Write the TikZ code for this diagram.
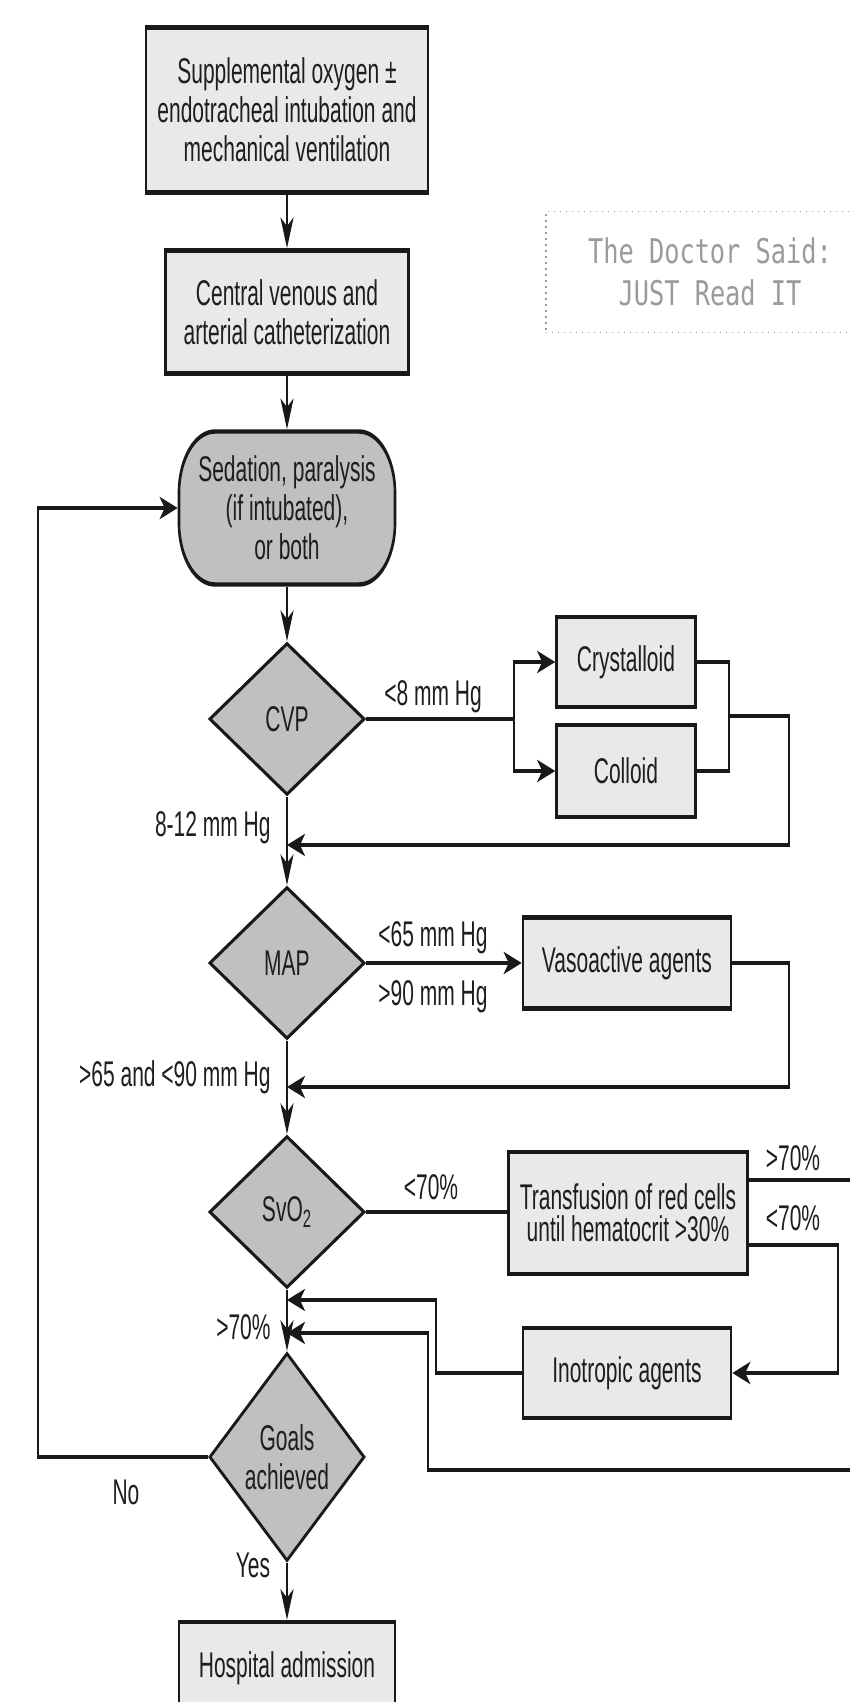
\documentclass[tikz,border=0pt]{standalone}
\usepackage{fontspec}
\setmainfont{Liberation Sans}
\newfontfamily\wmfont{DejaVu Sans Mono}[FakeStretch=0.745]
\usetikzlibrary{shapes.geometric,arrows.meta}
\definecolor{lightfill}{RGB}{233,233,233}
\definecolor{darkfill}{RGB}{192,192,192}
\definecolor{linec}{RGB}{25,25,25}
\definecolor{textc}{RGB}{30,30,30}
\definecolor{wmc}{RGB}{155,155,155}
\newcommand\fsz{\fontsize{10.5}{11.5}\selectfont}
\tikzset{
  lbox/.style={draw=linec, line width=1.3pt, fill=lightfill, inner sep=0pt, align=center, font=\fsz, text=textc},
  sedbox/.style={lbox, fill=darkfill, rounded corners=18pt},
  dia/.style={diamond, draw=linec, line width=1.1pt, fill=darkfill, inner sep=0pt, align=center, minimum width=77.5pt, minimum height=44.7pt, font=\fsz, text=textc},
  conn/.style={line width=1.2pt, draw=linec},
  arr/.style={conn, -{Stealth[length=9pt,width=6.5pt,inset=2.5pt]}},
  lab/.style={font=\fsz, text=textc, inner sep=0pt},
  wmbox/.style={draw=wmc, line width=0.6pt, dash pattern=on 0.6pt off 2.4pt, minimum width=164pt, minimum height=60.5pt, inner sep=0pt, align=center, text=wmc, font=\wmfont\fontsize{17}{21}\selectfont},
}
\begin{document}
\begin{tikzpicture}[x=0.5pt,y=-0.5pt]
\useasboundingbox (0,0) rectangle (850,1702);
\clip (0,0) rectangle (850,1702);
\fill[white] (0,0) rectangle (850,1702);
\node[wmbox] (wm) at (710,272) {The Doctor Said:\\JUST Read IT};
\begin{scope}[transform canvas={yscale=1.7}, y=-0.294118pt]
\node[lbox, minimum width=141pt, minimum height=48.5pt] (n1) at (287,110) {Supplemental oxygen ±\\endotracheal intubation and\\mechanical ventilation};
\node[lbox, minimum width=121.5pt, minimum height=36.2pt] (n2) at (287,312) {Central venous and\\arterial catheterization};
\node[sedbox, minimum width=108pt, minimum height=45pt] (sed) at (287,508) {Sedation, paralysis\\(if intubated),\\or both};
\node[dia] (cvp) at (287,719) {CVP};
\node[lbox, minimum width=69.5pt, minimum height=26.5pt] (crys) at (626,662) {Crystalloid};
\node[lbox, minimum width=69.5pt, minimum height=27pt] (coll) at (626,771) {Colloid};
\node[dia] (map) at (287,963) {MAP};
\node[lbox, minimum width=104pt, minimum height=26.8pt] (vaso) at (627,963) {Vasoactive agents};
\node[dia] (svo) at (287,1212) {SvO\textsubscript{2}};
\node[lbox, minimum width=119.5pt, minimum height=35.9pt, font=\fontsize{10.5}{9.5}\selectfont] (trans) at (628,1213) {Transfusion of red cells\\until hematocrit >30\%};
\node[lbox, minimum width=104pt, minimum height=26.5pt] (ino) at (627,1373) {Inotropic agents};
\node[dia] (goals) at (287,1457) {Goals\\achieved};
\node[lbox, minimum width=108pt, minimum height=27pt] (hosp) at (287,1668) {Hospital admission};
% labels
\node[lab] (l1) at (433,697) {<8 mm Hg};
\node[lab, anchor=east] (l2) at (271,828) {8-12 mm Hg};
\node[lab] (l3) at (433,938) {<65 mm Hg};
\node[lab] (l4) at (433,997) {>90 mm Hg};
\node[lab, anchor=east] (l5) at (271,1077) {>65 and <90 mm Hg};
\node[lab] (l6) at (431,1187) {<70\%};
\node[lab] (l7) at (793,1158) {>70\%};
\node[lab] (l8) at (793,1218) {<70\%};
\node[lab, anchor=east] (l9) at (271,1327) {>70\%};
\node[lab] (l10) at (126,1492) {No};
\node[lab] (l11) at (253,1565) {Yes};
% coordinates
\coordinate (j1) at (287,845);
\coordinate (j2) at (287,1087);
\coordinate (j3) at (287,1300);
\coordinate (j4) at (287,1333);
\coordinate (sp) at (514,719);
\coordinate (m1) at (729,716);
\coordinate (c1) at (789,845);
\coordinate (c2) at (789,1087);
\coordinate (tu) at (747.5,1180);
\coordinate (tl) at (747.5,1245);
\coordinate (c4) at (838,1245);
\coordinate (c5) at (436,1300);
\coordinate (c6) at (38,508);
\coordinate (o1) at (880,1180);
\coordinate (o2) at (880,1470);
\coordinate (o3) at (428,1470);
% connectors
\draw[arr] (n1) -- (n2);
\draw[arr] (n2) -- (sed);
\draw[arr] (sed) -- (cvp);
\draw[arr] (cvp) -- (map);
\draw[arr] (map) -- (svo);
\draw[arr] (svo) -- (goals);
\draw[arr] (goals) -- (hosp);
\draw[conn] (cvp.east) -- (sp);
\draw[arr] (sp) |- (crys.west);
\draw[arr] (sp) |- (coll.west);
\draw[conn] (crys.east) -| (m1) |- (coll.east);
\draw[arr] (m1) -| (c1) -- (j1);
\draw[arr] (map) -- (vaso);
\draw[arr] (vaso.east) -| (c2) -- (j2);
\draw[conn] (svo.east) -- (svo.east -| trans.west);
\draw[arr] (tu) -- (o1) -- (o2) -- (o3) |- (j4);
\draw[arr] (tl) -- (c4) |- (ino.east);
\draw[arr] (ino.west) -| (c5) -- (j3);
\draw[arr] (goals.west) -| (c6) -- (sed.west);
\end{scope}
\end{tikzpicture}
\end{document}
